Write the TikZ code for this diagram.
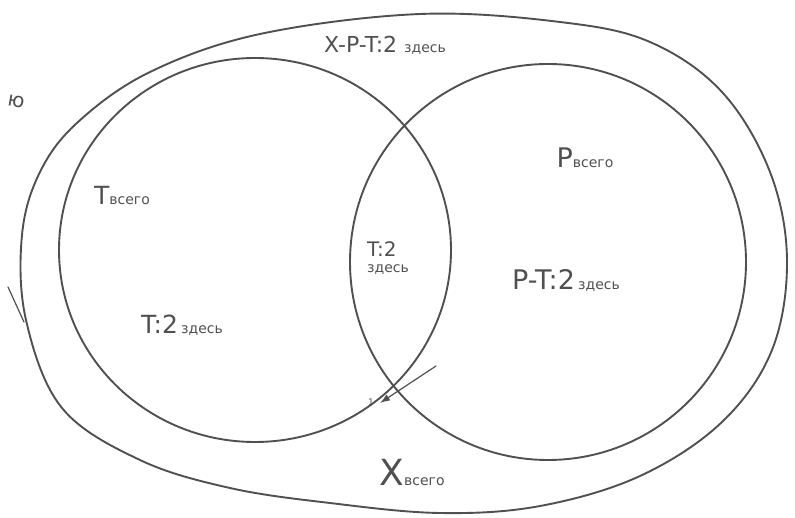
\documentclass[tikz,border=0pt]{standalone}
\usepackage{fontspec}
\setmainfont{DejaVu Sans}
\usetikzlibrary{arrows.meta}
\definecolor{pencil}{HTML}{505050}
\tikzset{
  pen/.style={draw=pencil, line width=1.9pt, line cap=round},
  note/.style={text=pencil, inner sep=0pt},
  big/.style={font=\fontsize{22}{22}\selectfont},
}
\newcommand{\sub}{\fontsize{14}{14}\selectfont}
\begin{document}
\begin{tikzpicture}[x=1pt,y=-1pt]
  \useasboundingbox (0,0) rectangle (795,518);
  % the whole set X, drawn by hand
  \draw[pen] plot[smooth cycle, tension=0.6] coordinates {
    (420,14) (560,22) (650,42) (722,92) (770,172) (787,260) (772,350)
    (722,422) (640,476) (540,506) (440,513) (330,503) (230,488)
    (140,460) (62,408) (26,320) (22,235) (40,172) (78,122) (150,72)
    (260,34)};
  % stray stroke on the left
  \draw[pen, line width=1.2pt] (8,287) -- (24,322);
  % the sets T and P
  \draw[pen] (255,250) ellipse (196 and 192);
  \draw[pen] (548,262) ellipse (198 and 198);
  % small mark at the lower crossing
  \coordinate (markstart) at (436,366);
  \coordinate (markend) at (380,403);
  \draw[pen, line width=1.2pt, -{Latex[length=10pt,width=7pt]}] (markstart) -- (markend);
  \node[note, font=\fontsize{9}{9}\selectfont] (markone) at (371,402) {1};
  % texts
  \node[note, rotate=-10, font=\fontsize{20}{20}\selectfont] (yu) at (16,102) {ю};
  \node[note, big] (xrest) at (385,45) {X-P-T:2 {\sub здесь}};
  \node[note] (tall) at (122,195) {{\fontsize{25}{25}\selectfont T}{\sub всего}};
  \node[note, align=left] (tboth) at (388,258) {{\fontsize{20}{20}\selectfont T:2}\\[4pt]{\sub здесь}};
  \node[note] (pall) at (585,158) {{\fontsize{27}{27}\selectfont P}{\sub всего}};
  \node[note] (prest) at (566,280) {{\fontsize{27}{27}\selectfont P-T:2} {\sub здесь}};
  \node[note] (tonly) at (182,325) {{\fontsize{25}{25}\selectfont T:2} {\sub здесь}};
  \node[note] (xall) at (412,472) {{\fontsize{36}{36}\selectfont X}{\sub всего}};
\end{tikzpicture}
\end{document}
